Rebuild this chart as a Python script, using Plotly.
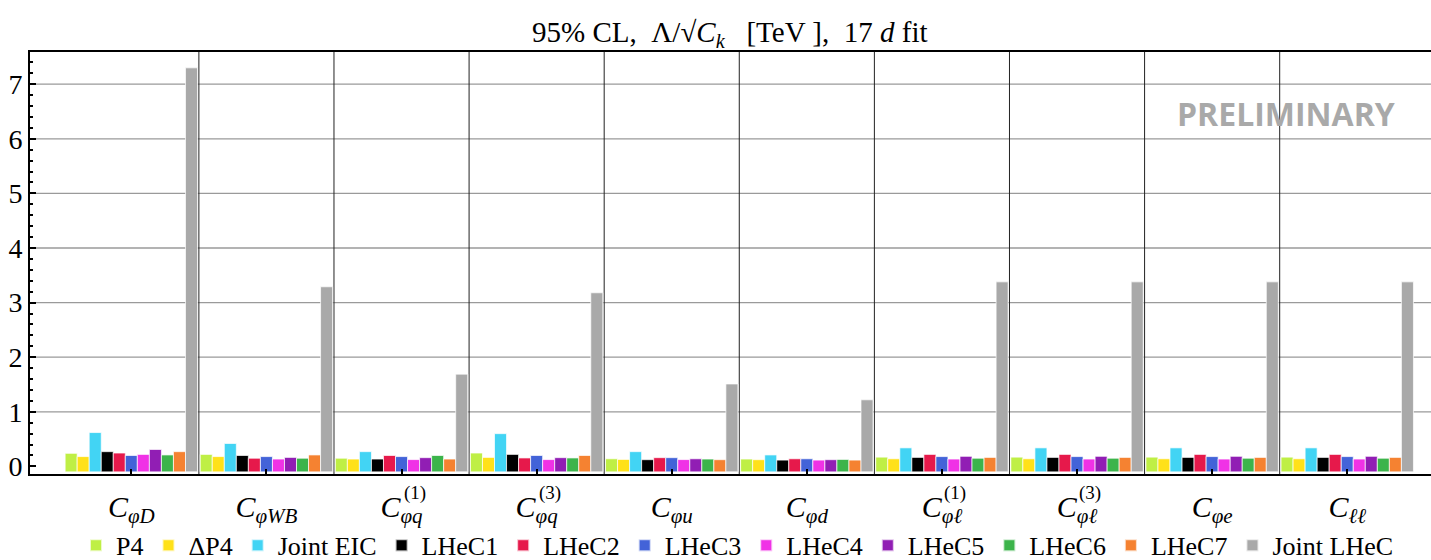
import numpy as np
import plotly.graph_objects as go

# Wilson coefficients (x categories)
coeff_main = [
    "<i>C</i><sub><i>φD</i></sub>",
    "<i>C</i><sub><i>φWB</i></sub>",
    "<i>C</i><sub><i>φq</i></sub>",
    "<i>C</i><sub><i>φq</i></sub>",
    "<i>C</i><sub><i>φu</i></sub>",
    "<i>C</i><sub><i>φd</i></sub>",
    "<i>C</i><sub><i>φℓ</i></sub>",
    "<i>C</i><sub><i>φℓ</i></sub>",
    "<i>C</i><sub><i>φe</i></sub>",
    "<i>C</i><sub><i>ℓℓ</i></sub>",
]
coeff_sup = ["", "", "(1)", "(3)", "", "", "(1)", "(3)", "", ""]

# 95% CL bounds on Lambda/sqrt(C_k) in TeV, per scenario
P4 = [0.24, 0.22, 0.15, 0.245, 0.14, 0.135, 0.17, 0.17, 0.17, 0.17]
dP4 = [0.18, 0.18, 0.135, 0.165, 0.128, 0.123, 0.14, 0.14, 0.14, 0.14]
joint_eic = [0.62, 0.42, 0.27, 0.60, 0.27, 0.21, 0.34, 0.34, 0.34, 0.34]
lhec1 = [0.27, 0.20, 0.135, 0.22, 0.123, 0.116, 0.165, 0.165, 0.165, 0.165]
lhec2 = [0.245, 0.15, 0.20, 0.155, 0.16, 0.14, 0.22, 0.22, 0.22, 0.22]
lhec3 = [0.20, 0.18, 0.18, 0.20, 0.16, 0.14, 0.18, 0.18, 0.18, 0.18]
lhec4 = [0.22, 0.135, 0.125, 0.125, 0.125, 0.116, 0.135, 0.135, 0.135, 0.135]
lhec5 = [0.31, 0.165, 0.16, 0.16, 0.14, 0.123, 0.185, 0.185, 0.185, 0.185]
lhec6 = [0.21, 0.15, 0.20, 0.155, 0.135, 0.128, 0.15, 0.15, 0.15, 0.15]
lhec7 = [0.27, 0.21, 0.135, 0.20, 0.123, 0.116, 0.165, 0.165, 0.165, 0.165]
joint_lhec = [7.30, 3.29, 1.69, 3.18, 1.51, 1.22, 3.38, 3.38, 3.38, 3.38]

series_names = ["P4", "ΔP4", "Joint EIC", "LHeC1", "LHeC2", "LHeC3",
                "LHeC4", "LHeC5", "LHeC6", "LHeC7", "Joint LHeC"]
series_values = [P4, dP4, joint_eic, lhec1, lhec2, lhec3,
                 lhec4, lhec5, lhec6, lhec7, joint_lhec]
series_colors = ["#bfef45", "#ffe119", "#42d4f4", "#000000", "#e6194b",
                 "#4363d8", "#f032e6", "#911eb4", "#3cb44b", "#f58231",
                 "#a9a9a9"]

y_ticks = [0, 1, 2, 3, 4, 5, 6, 7]

BAR_FLOOR = -0.1  # bars rise from just below the zero tick
SERIF = "Liberation Serif"

x_pos = np.arange(len(coeff_main))

fig = go.Figure()
for name, vals, col in zip(series_names, series_values, series_colors):
    vals = np.asarray(vals, dtype=float)
    fig.add_trace(go.Bar(
        x=x_pos, y=vals - BAR_FLOOR, base=BAR_FLOOR, name=name,
        marker=dict(color=col, line=dict(color="rgba(255,255,255,0.7)", width=1)),
    ))

shapes = []
# horizontal grid at the integer ticks above zero
for v in y_ticks[1:]:
    shapes.append(dict(type="line", xref="paper", x0=0, x1=1, yref="y", y0=v, y1=v,
                       line=dict(color="#9a9a9a", width=1.3), layer="below"))
# separators between coefficient groups
for i in range(len(coeff_main) - 1):
    shapes.append(dict(type="line", xref="x", x0=i + 0.5, x1=i + 0.5, yref="paper", y0=0, y1=1,
                       line=dict(color="#222222", width=1), layer="below"))

annotations = []
for i, s in enumerate(coeff_sup):
    if s:
        annotations.append(dict(x=i, xref="x", y=0, yref="paper", text=s, showarrow=False,
                                xanchor="left", yanchor="middle", xshift=0, yshift=-19,
                                font=dict(family=SERIF, size=19, color="black")))
annotations.append(dict(x=0.9757, xref="paper", y=0.855, yref="paper", text="<b>PRELIMINARY</b>",
                        showarrow=False, xanchor="right", yanchor="middle",
                        font=dict(family="Open Sans", size=32, color="#a9a9a9")))

fig.update_layout(
    width=1431, height=560,
    margin=dict(l=30, r=0, t=52, b=86, autoexpand=False),
    paper_bgcolor="white", plot_bgcolor="white",
    barmode="group", bargap=0.02, bargroupgap=0,
    title=dict(text="95% CL,  Λ/√<i>C<sub>k</sub></i>   [TeV ],  17 <i>d</i> fit",
               x=0.51, xanchor="center", y=0.943, yanchor="middle", yref="container",
               font=dict(family=SERIF, size=29, color="black")),
    xaxis=dict(range=[-0.75, 9.62], tickvals=list(x_pos), ticktext=coeff_main,
               ticks="inside", ticklen=5, tickwidth=2, tickcolor="black",
               showgrid=False, zeroline=False, showline=True, linecolor="black",
               linewidth=2, mirror=True, automargin=False, ticklabelstandoff=5,
               tickfont=dict(family=SERIF, size=30, color="black")),
    yaxis=dict(range=[-0.139, 7.59], tickvals=y_ticks, ticks="inside", ticklen=6,
               tickwidth=1.5, tickcolor="black", showgrid=False, zeroline=False,
               showline=True, linecolor="black", linewidth=2, mirror=True,
               automargin=False,
               minor=dict(dtick=0.2, tick0=0, ticks="inside", ticklen=3,
                          tickcolor="black", showgrid=False),
               tickfont=dict(family=SERIF, size=28, color="black")),
    legend=dict(orientation="h", x=0.505, xanchor="center", y=0.026, yanchor="middle",
                yref="container", bgcolor="rgba(0,0,0,0)",
                font=dict(family=SERIF, size=26, color="black"),
                itemsizing="constant", tracegroupgap=0),
    shapes=shapes, annotations=annotations,
)

fig.write_html("out.html")
